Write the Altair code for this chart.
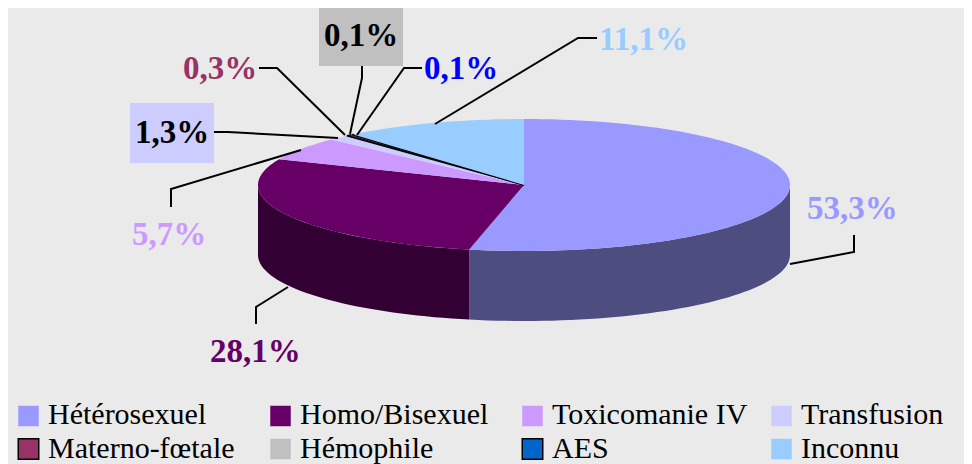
import math
import altair as alt
import pandas as pd

categories = ["Hétérosexuel", "Homo/Bisexuel", "Toxicomanie IV", "Transfusion",
              "Materno-fœtale", "Hémophile", "AES", "Inconnu"]
shares = [53.3, 28.1, 5.7, 1.3, 0.3, 0.1, 0.1, 11.1]
labels = ["53,3%", "28,1%", "5,7%", "1,3%", "0,3%", "0,1%", "0,1%", "11,1%"]
colors = ["#9999FF", "#660066", "#CC99FF", "#CCCCFF", "#993366", "#C0C0C0", "#0066CC", "#99CCFF"]
label_colors = ["#9999FF", "#660066", "#CC99FF", "#000000", "#993366", "#000000", "#0000FF", "#99CCFF"]
wall_colors = ["#4D4D80", "#330033", "#664D80", "#666680", "#4D1A33", "#606060", "#003366", "#4D6680"]
outlined = [False, False, False, False, True, False, True, False]

label_x = [807, 210, 132, 135, 183, 324, 424, 599]
label_y = [219, 362, 245, 143, 79, 46, 79, 50]
box_x = [130, 319]
box_x2 = [214, 403]
box_y = [103, 6]
box_y2 = [163, 66]
box_fill = ["#CCCCFF", "#C0C0C0"]

leaders = [
    [(790, 264), (854, 252), (854, 235)],
    [(288, 287), (256, 307), (256, 324)],
    [(301, 150), (171, 189), (171, 207)],
    [(338, 138), (228, 132), (214, 132)],
    [(345, 135), (277, 68), (259, 68)],
    [(350, 134), (362, 78), (362, 66)],
    [(357, 135), (404, 68), (422, 68)],
    [(435, 124), (578, 38), (597, 38)],
]

legend_sq_x = [28.5, 280.5, 532.5, 781.5]
legend_txt_x = [48, 300, 552, 801]
legend_y = [416, 449]
legend_base = [424, 457.5]

CX, CY, RX, RY, DEPTH = 524, 185, 266, 66, 70


def pt(deg, dy=0):
    a = math.radians(deg)
    return CX + RX * math.sin(a), CY - RY * math.cos(a) + dy


tops, walls = [], []
cum = 0.0
for i, s in enumerate(shares):
    a0, a1 = cum * 3.6, (cum + s) * 3.6
    cum += s
    n = max(2, int((a1 - a0) / 2) + 2)
    arc = [a0 + (a1 - a0) * k / (n - 1) for k in range(n)]
    poly = [(CX, CY)] + [pt(a) for a in arc]
    for k, (x, y) in enumerate(poly):
        tops.append(dict(part=f"t{i}", x=x, y=y, o=k, fill=colors[i],
                         stroke="#000000" if outlined[i] else "transparent"))
    b0, b1 = max(a0, 90), min(a1, 270)
    if b1 > b0:
        m = int((b1 - b0) / 2) + 2
        front = [b0 + (b1 - b0) * k / (m - 1) for k in range(m)]
        poly = [pt(a) for a in front] + [pt(a, DEPTH) for a in reversed(front)]
        for k, (x, y) in enumerate(poly):
            walls.append(dict(part=f"w{i}", x=x, y=y, o=k, fill=wall_colors[i]))

xs = alt.Scale(domain=[8, 964], nice=False, zero=False)
ys = alt.Scale(domain=[464, 8], nice=False, zero=False)
X = alt.X("x:Q", scale=xs, axis=None)
Y = alt.Y("y:Q", scale=ys, axis=None)

wall_layer = alt.Chart(pd.DataFrame(walls)).mark_line(
    interpolate="linear-closed", strokeWidth=0
).encode(x=X, y=Y, order="o:Q", detail="part:N", fill=alt.Fill("fill:N", scale=None))

top_layer = alt.Chart(pd.DataFrame(tops)).mark_line(
    interpolate="linear-closed", strokeWidth=1.4
).encode(x=X, y=Y, order="o:Q", detail="part:N",
         fill=alt.Fill("fill:N", scale=None), stroke=alt.Stroke("stroke:N", scale=None))

leader_rows = [dict(g=i, o=k, x=p[0], y=p[1]) for i, l in enumerate(leaders) for k, p in enumerate(l)]
leader_layer = alt.Chart(pd.DataFrame(leader_rows)).mark_line(color="#000000", strokeWidth=2).encode(
    x=X, y=Y, order="o:Q", detail="g:N")

box_layer = alt.Chart(pd.DataFrame(dict(x=box_x, x2=box_x2, y=box_y, y2=box_y2, fill=box_fill))).mark_rect().encode(
    x=X, x2="x2:Q", y=Y, y2="y2:Q", fill=alt.Fill("fill:N", scale=None))

label_layer = alt.Chart(pd.DataFrame(dict(x=label_x, y=label_y, t=labels, c=label_colors))).mark_text(
    font="Liberation Serif", fontWeight="bold", fontSize=33, align="left", baseline="alphabetic"
).encode(x=X, y=Y, text="t:N", color=alt.Color("c:N", scale=None))

lg = []
for i, name in enumerate(categories):
    r, c = divmod(i, 4)
    lg.append(dict(name=name, sx=legend_sq_x[c], sy=legend_y[r], tx=legend_txt_x[c], by=legend_base[r],
                   fill=colors[i], stroke="#000000" if outlined[i] else "transparent"))
lg = pd.DataFrame(lg)
legend_sq = alt.Chart(lg).mark_square(size=420, opacity=1, strokeWidth=1.5).encode(
    x=alt.X("sx:Q", scale=xs, axis=None), y=alt.Y("sy:Q", scale=ys, axis=None),
    fill=alt.Fill("fill:N", scale=None), stroke=alt.Stroke("stroke:N", scale=None))
legend_tx = alt.Chart(lg).mark_text(
    font="Liberation Serif", fontSize=30, align="left", baseline="alphabetic", color="#000000"
).encode(x=alt.X("tx:Q", scale=xs, axis=None), y=alt.Y("by:Q", scale=ys, axis=None), text="name:N")

chart = alt.layer(wall_layer, top_layer, box_layer, leader_layer, label_layer, legend_sq, legend_tx).properties(
    width=956, height=456, background="#EAEAEA", padding=0,
    autosize=alt.AutoSizeParams(type="none"),
).configure_view(stroke=None)

chart.save("out.html", embed_options={"renderer": "svg", "actions": False})
